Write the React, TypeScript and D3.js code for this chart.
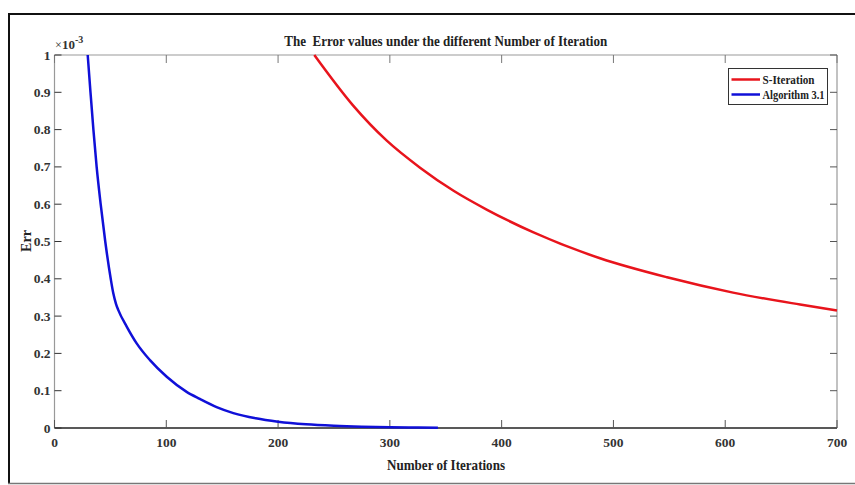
import React from "react";
import * as d3 from "d3";

const blueIter = [29.7, 32.2, 34.8, 37.7, 41.3, 45.4, 50.3, 52.6, 55, 57.1, 64.6, 73.5, 85.4, 100.4, 118.2, 130, 145, 160, 180, 200, 225, 250, 275, 300, 325, 343];
const blueVal = [1.0, 0.9, 0.8, 0.7, 0.6, 0.5, 0.4, 0.361, 0.333, 0.316, 0.272, 0.227, 0.182, 0.1375, 0.097, 0.078, 0.056, 0.040, 0.026, 0.017, 0.010, 0.006, 0.0035, 0.002, 0.0012, 0.001];
const redIter = [232.4, 267, 297, 327, 357, 387, 428, 488, 548, 607, 667, 700];
const redVal = [1.0, 0.865, 0.771, 0.698, 0.636, 0.585, 0.525, 0.455, 0.404, 0.363, 0.331, 0.315];
const xTicks = [0, 100, 200, 300, 400, 500, 600, 700];
const yTicks = [0, 0.1, 0.2, 0.3, 0.4, 0.5, 0.6, 0.7, 0.8, 0.9, 1];
const seriesNames = ["S-Iteration", "Algorithm 3.1"];
const titleText = "The  Error values under the different Number of Iteration";

export default function App() {
  const W = 855, H = 485;
  const L = 54.5, R = 837, T = 55, B = 428;
  const x = d3.scaleLinear().domain([0, 700]).range([L, R]);
  const y = d3.scaleLinear().domain([0, 1]).range([B, T]);
  const line = d3.line<[number, number]>().x(d => x(d[0])).y(d => y(d[1])).curve(d3.curveMonotoneX);
  const blue = line(blueIter.map((v, i) => [v, blueVal[i]] as [number, number])) || "";
  const red = line(redIter.map((v, i) => [v, redVal[i]] as [number, number])) || "";
  const font = "'Liberation Serif', 'Times New Roman', serif";
  const lab = "#333";
  return (
    <svg width={W} height={H} style={{ position: "absolute", left: 0, top: 0, background: "#fff" }} fontFamily={font}>
      <rect x={0} y={0} width={W} height={H} fill="#fff" />
      {/* outer frame */}
      <line x1={9} y1={13} x2={9} y2={484} stroke="#111" strokeWidth={2} />
      <line x1={8} y1={14} x2={W} y2={14} stroke="#111" strokeWidth={2} />
      <line x1={8} y1={483.5} x2={W} y2={483.5} stroke="#777" strokeWidth={1.5} />
      {/* axes box */}
      <line x1={L} y1={T} x2={R} y2={T} stroke="#999" strokeWidth={1} />
      <line x1={R} y1={T} x2={R} y2={B} stroke="#999" strokeWidth={1.2} />
      <line x1={L} y1={T} x2={L} y2={B} stroke="#999" strokeWidth={1.2} />
      <line x1={L} y1={B} x2={R} y2={B} stroke="#222" strokeWidth={1.3} />
      {/* ticks */}
      {xTicks.map(t => (
        <g key={"x" + t}>
          <line x1={x(t)} x2={x(t)} y1={B} y2={B - 8} stroke="#555" strokeWidth={1} />
          <line x1={x(t)} x2={x(t)} y1={T} y2={T + 8} stroke="#777" strokeWidth={1} />
          <text x={x(t)} y={B + 18.5} textAnchor="middle" fontSize={13.5} fontWeight="bold" fill={lab}>{t}</text>
        </g>
      ))}
      {yTicks.map(t => (
        <g key={"y" + t}>
          <line x1={L} x2={L + 7} y1={y(t)} y2={y(t)} stroke="#333" strokeWidth={1} />
          <line x1={R} x2={R - 7} y1={y(t)} y2={y(t)} stroke="#555" strokeWidth={1} />
          <text x={L - 4} y={y(t) + 4.5} textAnchor="end" fontSize={13.5} fontWeight="bold" fill={lab}>{d3.format("")(+t.toFixed(1))}</text>
        </g>
      ))}
      {/* exponent */}
      <text x={55} y={49} fontSize={12} fill={lab}>×</text>
      <text x={62} y={49} fontSize={13} fontWeight="bold" fill={lab}>10</text>
      <text x={75} y={43} fontSize={10} fontWeight="bold" fill={lab}>-3</text>
      {/* curves */}
      <path d={red} fill="none" stroke="#e8141c" strokeWidth={2.5} />
      <path d={blue} fill="none" stroke="#1010d8" strokeWidth={2.5} />
      {/* title and labels */}
      <text x={(L + R) / 2} y={46} textAnchor="middle" fontSize={14} fontWeight="bold" fill="#222" textLength={323} lengthAdjust="spacingAndGlyphs" style={{ whiteSpace: "pre" }}>{titleText}</text>
      <text x={446} y={470} textAnchor="middle" fontSize={14} fontWeight="bold" fill="#222" textLength={118} lengthAdjust="spacingAndGlyphs">Number of Iterations</text>
      <text transform="translate(31,241) rotate(-90)" textAnchor="middle" fontSize={14} fontWeight="bold" fill="#222">Err</text>
      {/* legend */}
      <rect x={728.5} y={68.5} width={99} height={36} fill="#fff" stroke="#333" strokeWidth={1} />
      <line x1={731.5} x2={760} y1={79.5} y2={79.5} stroke="#e8141c" strokeWidth={2.5} />
      <line x1={731.5} x2={760} y1={94.5} y2={94.5} stroke="#1010d8" strokeWidth={2.5} />
      <text x={762.5} y={83.5} fontSize={12} fontWeight="bold" fill="#222" textLength={52} lengthAdjust="spacingAndGlyphs">{seriesNames[0]}</text>
      <text x={762.5} y={99} fontSize={12} fontWeight="bold" fill="#222" textLength={62} lengthAdjust="spacingAndGlyphs">{seriesNames[1]}</text>
    </svg>
  );
}
